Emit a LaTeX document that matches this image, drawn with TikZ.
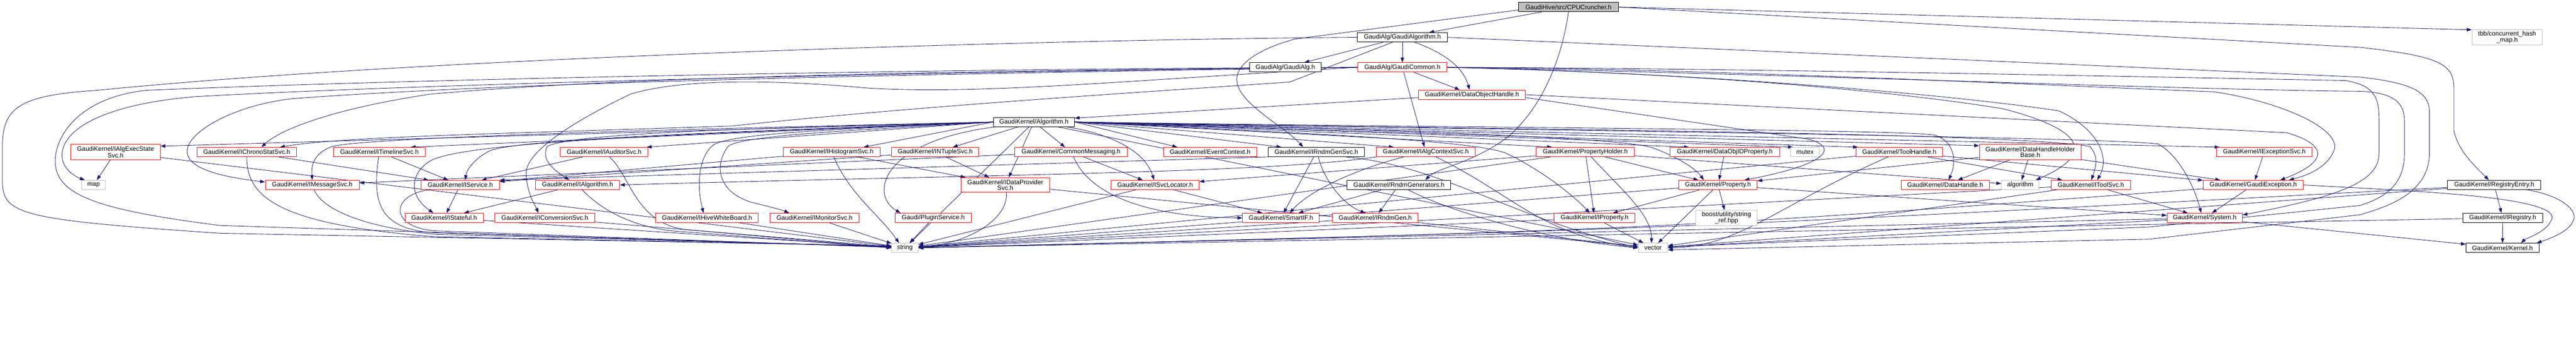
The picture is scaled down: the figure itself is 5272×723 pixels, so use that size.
\documentclass[tikz,border=0pt]{standalone}
\usepackage{fontspec}
\setmainfont{Liberation Sans}
\usetikzlibrary{arrows.meta,backgrounds}

\definecolor{edgeblue}{HTML}{191970}
\definecolor{sysgray}{HTML}{BFBFBF}

\begin{document}
\begin{tikzpicture}[x=1pt,y=-1pt,
    hdr/.style={draw=#1,fill=white,line width=1pt,minimum height=19pt,
      inner xsep=1pt,inner ysep=1pt,align=center,
      font=\fontsize{13}{12}\selectfont},
    hdr/.default=red,
    dep/.style={draw=edgeblue,line width=0.9pt,-{Triangle[length=10pt,width=7pt]}}]
  \useasboundingbox (0,0) rectangle (5272,723);
  % upper ranks
  \node[hdr=black,fill=sysgray,minimum width=204pt] (cpu) at (3210,14.5) {GaudiHive/src/CPUCruncher.h};
  \node[hdr=black,minimum width=184pt] (galgo) at (2870,76.5) {GaudiAlg/GaudiAlgorithm.h};
  \node[hdr=sysgray,minimum width=144pt,minimum height=31pt] (tbb) at (5131,76.5) {tbb/concurrent\_hash\\\_map.h};
  \node[hdr=black,minimum width=147pt] (galg) at (2630.5,138) {GaudiAlg/GaudiAlg.h};
  \node[hdr=red,minimum width=182pt] (gcommon) at (2870,138) {GaudiAlg/GaudiCommon.h};
  \node[hdr=red,minimum width=219pt] (doh) at (3012.5,194) {GaudiKernel/DataObjectHandle.h};
  \node[hdr=black,minimum width=166pt] (algo) at (2116,250) {GaudiKernel/Algorithm.h};
  % rank of the interfaces
  \node[hdr=red,minimum width=183pt,minimum height=31pt] (ies) at (236.5,311.5) {GaudiKernel/IAlgExecState\\Svc.h};
  \node[hdr=red,minimum width=204pt] (ichrono) at (505,311.5) {GaudiKernel/IChronoStatSvc.h};
  \node[hdr=red,minimum width=187pt] (itimeline) at (776.5,311.5) {GaudiKernel/ITimelineSvc.h};
  \node[hdr=red,minimum width=179pt] (iauditor) at (1236.5,311.5) {GaudiKernel/IAuditorSvc.h};
  \node[hdr=red,minimum width=198pt] (ihisto) at (1702,311.5) {GaudiKernel/IHistogramSvc.h};
  \node[hdr=red,minimum width=178pt] (intuple) at (1914,311.5) {GaudiKernel/INTupleSvc.h};
  \node[hdr=red,minimum width=230pt] (commonmsg) at (2192,311.5) {GaudiKernel/CommonMessaging.h};
  \node[hdr=red,minimum width=191pt] (eventctx) at (2476.5,311.5) {GaudiKernel/EventContext.h};
  \node[hdr=black,minimum width=198pt] (irndmgensvc) at (2694,311.5) {GaudiKernel/IRndmGenSvc.h};
  \node[hdr=red,minimum width=202pt] (ialgctx) at (2918,311.5) {GaudiKernel/IAlgContextSvc.h};
  \node[hdr=red,minimum width=201pt] (propholder) at (3244.5,311.5) {GaudiKernel/PropertyHolder.h};
  \node[hdr=red,minimum width=224pt] (dataobjid) at (3530,311.5) {GaudiKernel/DataObjIDProperty.h};
  \node[hdr=sysgray,minimum width=60pt] (mutex) at (3694,311.5) {mutex};
  \node[hdr=red,minimum width=178pt] (toolhandle) at (3887,311.5) {GaudiKernel/ToolHandle.h};
  \node[hdr=red,minimum width=208pt,minimum height=31pt] (dhhb) at (4155,311.5) {GaudiKernel/DataHandleHolder\\Base.h};
  \node[hdr=red,minimum width=196pt] (iexcsvc) at (4634,311.5) {GaudiKernel/IExceptionSvc.h};
  % next rank
  \node[hdr=sysgray,minimum width=49pt] (map) at (191.5,379) {map};
  \node[hdr=red,minimum width=192pt] (imsg) at (639,379) {GaudiKernel/IMessageSvc.h};
  \node[hdr=red,minimum width=160pt] (iservice) at (942,379) {GaudiKernel/IService.h};
  \node[hdr=red,minimum width=172pt] (ialgorithm) at (1182,379) {GaudiKernel/IAlgorithm.h};
  \node[hdr=red,minimum width=181pt,minimum height=30pt] (idataprov) at (2057.5,379) {GaudiKernel/IDataProvider\\Svc.h};
  \node[hdr=red,minimum width=180pt] (isvcloc) at (2364,379) {GaudiKernel/ISvcLocator.h};
  \node[hdr=black,minimum width=212pt] (rndmgen) at (2863,379) {GaudiKernel/RndmGenerators.h};
  \node[hdr=red,minimum width=160pt] (property) at (3516,379) {GaudiKernel/Property.h};
  \node[hdr=red,minimum width=180pt] (datahandle) at (3981,379) {GaudiKernel/DataHandle.h};
  \node[hdr=sysgray,minimum width=77pt] (stdalgorithm) at (4134.5,379) {algorithm};
  \node[hdr=red,minimum width=162pt] (itoolsvc) at (4279,379) {GaudiKernel/IToolSvc.h};
  \node[hdr=red,minimum width=205pt] (gexc) at (4611.5,379) {GaudiKernel/GaudiException.h};
  \node[hdr=black,minimum width=191pt] (regentry) at (5104.5,379) {GaudiKernel/RegistryEntry.h};
  % lower ranks
  \node[hdr=red,minimum width=160pt] (istateful) at (909,446.5) {GaudiKernel/IStateful.h};
  \node[hdr=red,minimum width=204pt] (iconv) at (1115,446.5) {GaudiKernel/IConversionSvc.h};
  \node[hdr=red,minimum width=210pt] (ihive) at (1447,446.5) {GaudiKernel/IHiveWhiteBoard.h};
  \node[hdr=red,minimum width=182pt] (imonitor) at (1667,446.5) {GaudiKernel/IMonitorSvc.h};
  \node[hdr=red,minimum width=156pt] (plugin) at (1910,446.5) {Gaudi/PluginService.h};
  \node[hdr=red,minimum width=157pt] (smartif) at (2621.5,446.5) {GaudiKernel/SmartIF.h};
  \node[hdr=red,minimum width=175pt] (irndmgen) at (2814.5,446.5) {GaudiKernel/IRndmGen.h};
  \node[hdr=red,minimum width=165pt] (iproperty) at (3263.5,446.5) {GaudiKernel/IProperty.h};
  \node[hdr=sysgray,minimum width=125pt,minimum height=31pt] (stringref) at (3533.5,446.5) {boost/utility/string\\\_ref.hpp};
  \node[hdr=red,minimum width=154pt] (system) at (4512,446.5) {GaudiKernel/System.h};
  \node[hdr=black,minimum width=164pt] (iregistry) at (5122,446.5) {GaudiKernel/IRegistry.h};
  \node[hdr=sysgray,minimum width=54pt] (string) at (1852,508) {string};
  \node[hdr=sysgray,minimum width=60pt] (vector) at (3383,508) {vector};
  \node[hdr=black,minimum width=149pt] (kernel) at (5121.5,508) {GaudiKernel/Kernel.h};

  \begin{scope}[on background layer]
    \fill[white] (0,0) rectangle (5272,723);
    % CPUCruncher.h
    \draw[dep] (cpu) -- (galgo);
    \draw[dep] (cpu.east) -- (tbb.168);
    \draw[dep] (cpu.east) -- (4830,97) .. controls (4990,115) and (5022,130) .. (5022,180)
      -- (5022,267) .. controls (5030,310) and (5070,345) .. ([xshift=-11pt]regentry.north);
    \draw[dep] (cpu.south) .. controls (3195,130) and (3150,230) .. (3080,285)
      .. controls (3010,335) and (2940,345) .. ([xshift=54pt]rndmgen.north);
    \draw[dep] ([yshift=-6pt]cpu.west) -- (2650,80) .. controls (2560,105) and (2525,140) .. (2532,170)
      .. controls (2540,215) and (2630,260) .. ([xshift=-27pt]irndmgensvc.north);
    % GaudiAlgorithm.h
    \draw[dep] (galgo) -- (galg);
    \draw[dep] (galgo) -- (gcommon);
    \draw[dep] ([xshift=25pt]galgo.south) .. controls (2960,110) and (2995,140) .. ([xshift=-5pt]doh.north);
    \draw[dep] ([xshift=-20pt]galgo.south) -- (2640,168) .. controls (2400,185) and (1900,215) .. (1500,258)
      .. controls (1000,275) and (700,280) .. ([xshift=68pt]ichrono.north);
    \draw[dep] (galgo.west) .. controls (2200,80) and (900,115) .. (200,185) .. controls (40,195) and (5,220) .. (5,300)
      -- (5,370) .. controls (5,440) and (40,450) .. (450,478) -- ([yshift=4pt]string.west);
    \draw[dep] (galgo.east) -- (4830,158) .. controls (4940,170) and (4972,190) .. (4972,230)
      -- (4972,313) .. controls (4972,390) and (4900,420) .. (4830,440) -- (4400,490) -- ([yshift=-4pt]vector.east);
    % GaudiCommon.h
    \draw[dep] ([xshift=23pt]gcommon.south) -- ([xshift=-25pt]doh.north);
    \draw[dep] (gcommon) -- (ialgctx);
    \draw[dep] (gcommon.west) .. controls (2000,145) and (900,170) .. (400,198) .. controls (200,215) and (125,270) .. (127,320)
      .. controls (128,345) and (150,360) .. ([xshift=-18pt]map.north);
    \draw[dep] (gcommon.west) .. controls (2000,140) and (900,160) .. (300,185) .. controls (160,200) and (113,280) .. (113,330)
      .. controls (113,400) and (200,430) .. (450,462) -- ([yshift=2pt]string.west);
    \draw[dep] (gcommon.west) .. controls (2000,150) and (1100,165) .. (600,202) .. controls (480,215) and (383,270) .. (383,310)
      .. controls (383,345) and (450,362) .. ([yshift=6pt]imsg.west);
    \draw[dep] (gcommon.west) .. controls (2000,145) and (1300,155) .. (880,193) .. controls (700,220) and (580,260) .. ([xshift=30pt]ichrono.north);
    \draw[dep] (gcommon.west) .. controls (2300,165) and (2000,195) .. (1770,180) .. controls (1550,160) and (1380,165) .. (1290,193)
      .. controls (1150,260) and (1070,320) .. (1077,360) .. controls (1080,400) and (1095,420) .. ([xshift=-13pt]iconv.north);
    \draw[dep] (gcommon.east) .. controls (3500,150) and (4000,195) .. (4213,227) .. controls (4290,262) and (4320,320) .. ([xshift=13pt]itoolsvc.north);
    \draw[dep] (gcommon.east) .. controls (3500,150) and (3900,190) .. (4100,223) .. controls (4250,262) and (4300,310) .. ([xshift=32pt]stdalgorithm.north);
    \draw[dep] (gcommon.east) .. controls (3500,140) and (4300,180) .. (4530,188) .. controls (4680,210) and (4800,270) .. (4775,312)
      .. controls (4760,345) and (4720,360) .. ([xshift=73pt]gexc.north);
    \draw[dep] (gcommon.east) .. controls (3600,140) and (4500,160) .. (4800,165) .. controls (4860,175) and (4869,200) .. (4869,247)
      -- (4869,313) .. controls (4869,370) and (4800,400) .. ([yshift=6pt]system.east);
    \draw[dep] (gcommon.east) .. controls (3600,150) and (4500,185) .. (4830,187) .. controls (4900,190) and (4921,210) .. (4921,250)
      -- (4921,313) .. controls (4921,380) and (4880,405) .. (4830,421) -- (4400,465) -- ([yshift=2pt]vector.east);
    % DataObjectHandle.h
    \draw[dep] ([yshift=-6pt]doh.west) -- ([yshift=8pt]algo.east);
    \draw[dep] (doh.east) -- (4680,272) .. controls (4760,295) and (4770,330) .. ([xshift=55pt]gexc.north);
    \draw[dep] ([yshift=-6pt]doh.east) -- (3700,285) .. controls (3760,300) and (3750,335) .. ([xshift=54pt]property.north);
    % Algorithm.h, to the left
    \draw[dep] (algo.west) -- ([yshift=-4pt]ies.north east);
    \draw[dep] (algo.west) .. controls (1500,262) and (760,280) .. (680,300) .. controls (640,315) and (637,340) .. (imsg.north);
    \draw[dep] (algo.west) -- ([xshift=-30pt]itimeline.north east);
    \draw[dep] (algo.west) .. controls (1500,270) and (1050,285) .. (1000,310) .. controls (965,330) and (955,350) .. ([xshift=10pt]iservice.north);
    \draw[dep] (algo.west) .. controls (1400,275) and (950,290) .. (880,330) .. controls (840,355) and (835,400) .. ([xshift=-22pt]istateful.north);
    \draw[dep] (algo.west) -- ([xshift=-3pt]iauditor.north east);
    \draw[dep] (algo.west) .. controls (1600,262) and (1180,270) .. (1120,300) .. controls (1105,330) and (1140,352) .. ([xshift=-17pt]ialgorithm.north);
    \draw[dep] (algo.west) .. controls (1800,262) and (1500,270) .. (1460,297) .. controls (1430,320) and (1425,380) .. ([xshift=-7pt]ihive.north);
    \draw[dep] (algo.west) .. controls (1800,265) and (1520,275) .. (1490,300) .. controls (1460,340) and (1470,395) .. (1540,415)
      .. controls (1580,425) and (1600,430) .. ([xshift=-52pt]imonitor.north);
    \draw[dep] (algo.west) -- ([xshift=-34pt]ihisto.north east);
    \draw[dep] (algo) -- ([xshift=36pt]intuple.north);
    \draw[dep] (algo) -- (commonmsg);
    \draw[dep] (algo) -- (idataprov);
    \draw[dep] (algo) .. controls (1800,290) and (1780,400) .. ([xshift=-67pt]plugin.north);
    \draw[dep] (algo) -- (string);
    % Algorithm.h, to the right
    \draw[dep] (algo.east) -- ([xshift=29pt]eventctx.north west);
    \draw[dep] (algo.east) -- ([xshift=28pt]irndmgensvc.north west);
    \draw[dep] (algo) .. controls (2250,270) and (2340,300) .. ([xshift=-2pt]isvcloc.north);
    \draw[dep] (algo.east) -- ([xshift=36pt]ialgctx.north west);
    \draw[dep] (algo.east) -- ([xshift=33pt]propholder.north west);
    \draw[dep] (algo.east) -- ([xshift=39pt]dataobjid.north west);
    \draw[dep] (algo.east) -- ([xshift=6pt]mutex.north west);
    \draw[dep] (algo.east) -- ([xshift=5pt]toolhandle.north west);
    \draw[dep] (algo.east) -- ([yshift=-3pt]dhhb.north west);
    \draw[dep] (algo.east) -- ([xshift=7pt]iexcsvc.north west);
    \draw[dep] (algo.east) .. controls (2800,265) and (3300,280) .. (3380,302) .. controls (3430,320) and (3470,345) .. ([xshift=-29pt]property.north);
    \draw[dep] (algo.east) .. controls (2600,270) and (3000,285) .. (3080,313) .. controls (3150,345) and (3220,400) .. ([xshift=-10pt]iproperty.north);
    \draw[dep] (algo.east) .. controls (3000,262) and (3900,265) .. (3960,277) .. controls (4000,290) and (4005,330) .. ([xshift=7pt]datahandle.north);
    \draw[dep] (algo.east) .. controls (3000,265) and (4100,270) .. (4277,300) .. controls (4295,320) and (4290,340) .. ([xshift=1pt]itoolsvc.north);
    \draw[dep] (algo.east) .. controls (3000,265) and (4300,280) .. (4417,295) .. controls (4460,320) and (4490,380) .. ([xshift=-7pt]system.north);
    \draw[dep] (algo) -- (vector);
    % interfaces on the left
    \draw[dep] (ies) -- (map);
    \draw[dep] (ies) -- (string);
    \draw[dep] (ichrono) -- (iservice);
    \draw[dep] (ichrono) .. controls (505,400) and (560,460) .. (890,485) -- ([yshift=4pt]string.west);
    \draw[dep] (imsg) .. controls (655,420) and (720,463) .. (890,480) -- ([yshift=3pt]string.west);
    \draw[dep] (itimeline) -- (iservice);
    \draw[dep] (itimeline) .. controls (760,420) and (780,470) .. (890,477) -- ([yshift=2pt]string.west);
    \draw[dep] (iservice) -- (istateful);
    \draw[dep] ([xshift=-65pt]iservice.south) .. controls (800,400) and (795,465) .. (890,473) -- ([yshift=1pt]string.west);
    \draw[dep] (istateful) -- (string);
    \draw[dep] (iconv) -- (string);
    \draw[dep] (iauditor) -- (iservice);
    \draw[dep] (iauditor) .. controls (1290,360) and (1300,455) .. (1400,470) -- (string.west);
    \draw[dep] (ialgorithm) -- (istateful);
    \draw[dep] (ialgorithm) .. controls (1230,430) and (1300,470) .. (1400,475) -- (string.west);
    \draw[dep] (ihive) -- (string);
    \draw[dep] (imonitor) -- (string);
    \draw[dep] (ihisto) -- (idataprov);
    \draw[dep] (ihisto) -- ([yshift=-2pt]iservice.north east);
    \draw[dep] (ihisto) .. controls (1740,400) and (1800,440) .. ([xshift=-12pt]string.north);
    \draw[dep] (intuple) -- (idataprov);
    \draw[dep] (intuple) -- ([yshift=-3pt]iservice.north east);
    \draw[dep] (commonmsg) -- (imsg);
    \draw[dep] (commonmsg) -- (isvcloc);
    \draw[dep] ([xshift=5pt]commonmsg.south) .. controls (2230,400) and (2350,445) .. (smartif.west);
    \draw[dep] (idataprov) .. controls (2065,440) and (2000,495) .. (string.east);
    \draw[dep] (idataprov) -- (vector);
    \draw[dep] (plugin) -- (string);
    \draw[dep] (isvcloc) -- (smartif);
    \draw[dep] (isvcloc) -- (string);
    % interfaces in the middle
    \draw[dep] ([xshift=-45pt]ialgctx.south) .. controls (2780,345) and (2680,390) .. ([xshift=18pt]smartif.north);
    \draw[dep] (ialgctx.south west) .. controls (2600,355) and (2000,358) .. (ialgorithm.east);
    \draw[dep] (ialgctx) .. controls (3100,400) and (3150,480) .. (vector.west);
    \draw[dep] (rndmgen) -- (smartif);
    \draw[dep] (rndmgen) -- (irndmgen);
    \draw[dep] (rndmgen) .. controls (2960,430) and (3150,490) .. (vector.west);
    \draw[dep] (irndmgensvc) -- (smartif);
    \draw[dep] ([xshift=4pt]irndmgensvc.south) .. controls (2710,370) and (2750,420) .. ([xshift=-20pt]irndmgen.north);
    \draw[dep] (irndmgensvc.south west) -- (iservice.north east);
    \draw[dep] ([xshift=60pt]irndmgensvc.south) .. controls (2950,340) and (3080,440) .. (vector.west);
    \draw[dep] (irndmgen) -- (vector);
    \draw[dep] (irndmgen) -- (string);
    % properties
    \draw[dep] (propholder) -- (iproperty);
    \draw[dep] (propholder) -- (property);
    \draw[dep] ([xshift=12pt]propholder.south) .. controls (3320,390) and (3380,440) .. ([xshift=-3pt]vector.north);
    \draw[dep] (propholder) -- (string);
    \draw[dep] (propholder) -- (isvcloc);
    \draw[dep] (propholder) -- (stdalgorithm);
    \draw[dep] (dataobjid) -- (property);
    \draw[dep] (toolhandle) -- (itoolsvc);
    \draw[dep] (toolhandle) -- (gexc);
    \draw[dep] (toolhandle) .. controls (3640,420) and (3560,505) .. (vector.east);
    \draw[dep] (toolhandle) -- (string);
    \draw[dep] (property) -- (stringref);
    \draw[dep] (property) -- (iproperty);
    \draw[dep] (property) -- (string);
    \draw[dep] (property) -- (vector);
    \draw[dep] (property) -- (system);
    \draw[dep] (iproperty) -- (vector);
    \draw[dep] (iproperty) -- (string);
    % right part
    \draw[dep] (dhhb) -- (datahandle);
    \draw[dep] (dhhb) -- (stdalgorithm);
    \draw[dep] (dhhb) -- (property);
    \draw[dep] (dhhb) -- (gexc);
    \draw[dep] (itoolsvc) -- (system);
    \draw[dep] (itoolsvc) -- (string);
    \draw[dep] (itoolsvc) -- (vector);
    \draw[dep] (iexcsvc) -- (gexc);
    \draw[dep] (gexc) -- (system);
    \draw[dep] (gexc.east) .. controls (4900,390) and (5230,400) .. (5223,447) .. controls (5215,475) and (5170,488) .. ([xshift=38pt]kernel.north);
    \draw[dep] (gexc) .. controls (3400,470) .. (string.east);
    \draw[dep] (system) -- (kernel);
    \draw[dep] (system) -- (string);
    \draw[dep] (system) -- (vector);
    \draw[dep] (regentry) -- (iregistry);
    \draw[dep] ([xshift=67pt]regentry.south) .. controls (5240,400) and (5275,430) .. (5267,450)
      .. controls (5260,475) and (5215,490) .. ([xshift=70pt]kernel.north);
    \draw[dep] (regentry) -- (vector);
    \draw[dep] (regentry) .. controls (3400,470) .. (string.east);
    \draw[dep] (iregistry) -- (kernel);
    \draw[dep] (iregistry) -- (string);
  \end{scope}
\end{tikzpicture}
\end{document}
